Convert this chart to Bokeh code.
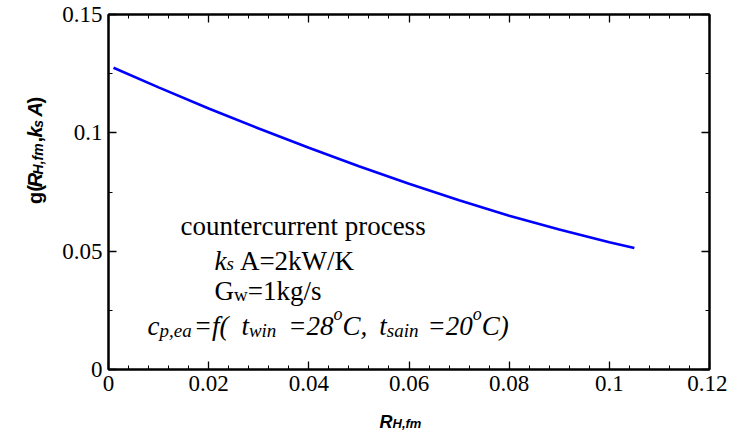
import numpy as np
from math import pi
from bokeh.plotting import figure
from bokeh.layouts import column, row
from bokeh.models import Range1d, LinearAxis, FixedTicker, Label, CustomLabelingPolicy
from bokeh.embed import file_html
from bokeh.resources import INLINE

# ---------------- data ----------------
r_hfm = [0.001, 0.01, 0.02, 0.03, 0.04, 0.05, 0.06, 0.07, 0.08, 0.09, 0.10, 0.105]
g_val = [0.1275, 0.1192, 0.1103, 0.1018, 0.0937, 0.0859, 0.0785, 0.0715, 0.0650, 0.0592, 0.0538, 0.0513]

x_ticks = [0, 0.02, 0.04, 0.06, 0.08, 0.1, 0.12]
x_tick_labels = ["0", "0.02", "0.04", "0.06", "0.08", "0.1", "0.12"]
y_ticks = [0, 0.05, 0.1, 0.15]
y_tick_labels = ["0", "0.05", "0.1", "0.15"]
x_min, x_max = 0.0, 0.12
y_min, y_max = 0.0, 0.15

# ---------------- layout (page pixels) ----------------
PAGE_L, PAGE_T = 8, 8
YLAB_W = 50                      # strip left of the plot holding the y title
MAIN_W, MAIN_H = 677, 401
XLAB_H = 431 - MAIN_H            # strip below the plot holding the x title
B_LEFT, B_RIGHT, B_TOP, B_BOTTOM = 58, 18, 14, 32
FX0 = PAGE_L + YLAB_W + B_LEFT
FY0 = PAGE_T + B_TOP
FW = MAIN_W - B_LEFT - B_RIGHT
FH = MAIN_H - B_TOP - B_BOTTOM


def X(px):
    return x_min + (px - FX0) / FW * (x_max - x_min)


def Y(py):
    return y_min + (FY0 + FH - py) / FH * (y_max - y_min)


p = figure(width=MAIN_W, height=MAIN_H,
           x_range=Range1d(x_min, x_max), y_range=Range1d(y_min, y_max),
           output_backend="svg", toolbar_location=None)
p.min_border = 0
p.min_border_left = B_LEFT
p.min_border_right = B_RIGHT
p.min_border_top = B_TOP
p.min_border_bottom = B_BOTTOM
p.xgrid.visible = False
p.ygrid.visible = False
p.outline_line_color = "black"
p.outline_line_width = 2
p.background_fill_color = "white"
p.border_fill_color = "white"

x_minor = np.round(np.arange(x_min, x_max + 1e-9, 0.004), 4).tolist()
y_minor = np.round(np.arange(y_min, y_max + 1e-9, 0.025), 4).tolist()

no_labels = CustomLabelingPolicy(code="""
for (const i of Array.from(indices)) { indices.unset(i) }
return indices
""")


def style_axis(ax, ticks, minor, labels, with_labels, standoff):
    ax.ticker = FixedTicker(ticks=ticks, minor_ticks=minor)
    ax.axis_line_color = "black"
    ax.axis_line_width = 2
    ax.major_tick_in = 8
    ax.major_tick_out = 0
    ax.minor_tick_in = 4
    ax.minor_tick_out = 0
    ax.major_tick_line_color = "black"
    ax.minor_tick_line_color = "black"
    ax.major_tick_line_width = 1.3
    ax.minor_tick_line_width = 1
    if with_labels:
        ax.major_label_overrides = {t: s for t, s in zip(ticks, labels)}
        ax.major_label_text_font = "Liberation Serif"
        ax.major_label_text_font_size = "23px"
        ax.major_label_text_color = "black"
        ax.major_label_standoff = standoff
    else:
        ax.major_label_text_font_size = "1px"
        ax.major_label_standoff = 0
        ax.major_label_policy = no_labels


style_axis(p.xaxis[0], x_ticks, x_minor, x_tick_labels, True, 6)
style_axis(p.yaxis[0], y_ticks, y_minor, y_tick_labels, True, 6)
top_ax = LinearAxis()
right_ax = LinearAxis()
style_axis(top_ax, x_ticks, x_minor, x_tick_labels, False, 0)
style_axis(right_ax, y_ticks, y_minor, y_tick_labels, False, 0)
p.add_layout(top_ax, "above")
p.add_layout(right_ax, "right")

p.line(r_hfm, g_val, line_color="#0000FF", line_width=2.6)


def strip(w, h, x0, y0):
    """A bare figure whose data coordinates equal page pixels."""
    f = figure(width=w, height=h, x_range=Range1d(x0, x0 + w), y_range=Range1d(y0 + h, y0),
               output_backend="svg", toolbar_location=None, title=None,
               x_axis_location=None, y_axis_location=None, min_border=0)
    f.outline_line_color = None
    f.xgrid.visible = False
    f.ygrid.visible = False
    f.background_fill_color = "white"
    f.border_fill_color = "white"
    return f


yfig = strip(YLAB_W, MAIN_H, PAGE_L, PAGE_T)
xfig = strip(YLAB_W + MAIN_W, XLAB_H, PAGE_L, PAGE_T + MAIN_H)

# ---------------- rich text helpers ----------------
WID = {
    "serif": {' ': 250, '(': 333, ')': 333, ',': 250, '.': 250, '/': 278, '=': 564,
              'A': 722, 'C': 667, 'G': 722, 'K': 722, 'W': 944, 'a': 444, 'c': 444,
              'e': 444, 'g': 500, 'k': 500, 'n': 500, 'o': 500, 'p': 500, 'r': 333,
              's': 389, 't': 278, 'u': 500, 'w': 722, 'i': 278, 'f': 333, 'l': 278,
              'm': 778},
    "serif_i": {' ': 250, '(': 333, ')': 333, ',': 250, '=': 675, 'A': 611, 'C': 667,
                'a': 500, 'c': 444, 'e': 444, 'f': 278, 'i': 278, 'k': 444, 'n': 500,
                'o': 500, 'p': 500, 's': 389, 't': 278, 'w': 667},
    "sans_b": {' ': 278, '(': 333, ')': 333, ',': 278, 'A': 722, 'H': 722, 'R': 722,
               'f': 333, 'g': 611, 'k': 556, 'm': 889, 's': 556},
}
WID["sans_bi"] = WID["sans_b"]
STY = {"serif": ("Liberation Serif", "normal"), "serif_i": ("Liberation Serif", "italic"),
       "sans_b": ("Liberation Sans", "bold"), "sans_bi": ("Liberation Sans", "bold italic")}


def tw(s, fam, size):
    return sum(WID[fam].get(c, 500) for c in s) * size / 1000.0


def add_text(fig, txt, fam, size, x, y, angle=0.0):
    font, style = STY[fam]
    fig.add_layout(Label(x=x, y=y, text=txt, angle=angle,
                         text_font=font, text_font_style=style,
                         text_font_size=f"{size}px", text_color="black",
                         text_align="left", text_baseline="alphabetic"))


def hline(fig, pieces, base, x0, conv=True):
    """pieces: (text, family, size, baseline shift, gap before)"""
    x = x0
    for txt, fam, size, dy, gap in pieces:
        x += gap
        if conv:
            add_text(fig, txt, fam, size, X(x), Y(base + dy))
        else:
            add_text(fig, txt, fam, size, x, base + dy)
        x += tw(txt, fam, size)


def vline(fig, pieces, bx, y0):
    y = y0
    for txt, fam, size, dx, gap in pieces:
        y -= gap
        add_text(fig, txt, fam, size, bx + dx, y, angle=pi / 2)
        y -= tw(txt, fam, size)


# y title (rotated), page coordinates
vline(yfig, [("g(", "sans_b", 20, 0, 0), ("R", "sans_bi", 20, 0, 0),
             ("H,fm", "sans_bi", 14, 3, 0), (",", "sans_b", 20, 0, 5),
             ("k", "sans_bi", 20, 0, 0), ("s", "sans_bi", 14, 3, 0),
             ("A", "sans_bi", 20, 0, 5), (")", "sans_b", 20, 0, 0)], 42, 222)
# x title, page coordinates
hline(xfig, [("R", "sans_bi", 18, 0, 0), ("H,fm", "sans_bi", 13, 2, 0)], 429, 387, conv=False)

# annotations inside the plot frame
hline(p, [("countercurrent process", "serif", 27, 0, 0)], 233, 188)
hline(p, [("k", "serif_i", 27, 0, 0), ("s", "serif_i", 19, 3, 0),
          ("A=2kW/K", "serif", 27, 0, 6)], 268, 222)
hline(p, [("G", "serif", 27, 0, 0), ("w", "serif", 19, 4, 0),
          ("=1kg/s", "serif", 27, 0, 0)], 298, 222)
hline(p, [("c", "serif_i", 27, 0, 0), ("p,ea", "serif_i", 19, 5, 0),
          ("=f(", "serif_i", 27, 0, 2), ("t", "serif_i", 27, 0, 13),
          ("win", "serif_i", 19, 5, 0), ("=28", "serif_i", 27, 0, 12),
          ("o", "serif_i", 18, -12, 0), ("C,", "serif_i", 27, 0, 0),
          ("t", "serif_i", 27, 0, 12), ("sain", "serif_i", 19, 5, 0),
          ("=20", "serif_i", 27, 0, 9), ("o", "serif_i", 18, -12, 0),
          ("C)", "serif_i", 27, 0, 0)], 333, 155)

layout = column(row(yfig, p, spacing=0), xfig, spacing=0)
open("out.html", "w").write(file_html(layout, INLINE))
